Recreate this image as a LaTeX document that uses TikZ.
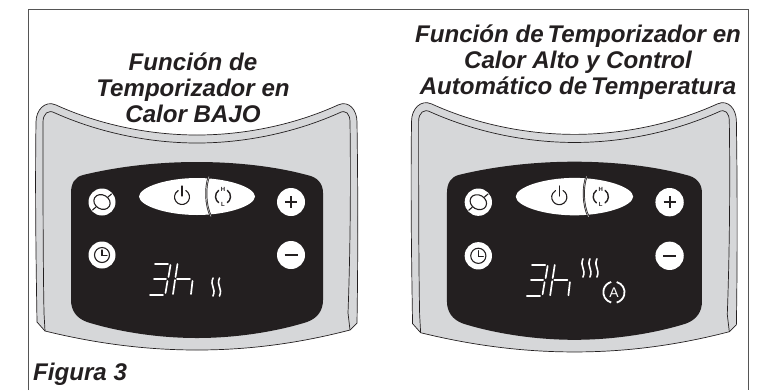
\documentclass[tikz,border=0pt]{standalone}
\usepackage{fontspec}
\setmainfont{Liberation Sans}
\definecolor{ink}{HTML}{231F20}
\definecolor{shell}{HTML}{D6D7D9}
\definecolor{framecol}{HTML}{555555}
\tikzset{
  shellline/.style={draw=ink,line width=0.7pt},
  seg/.style={draw=white,line width=1.7pt,line cap=round},
  btn/.style={fill=white},
  icon/.style={draw=ink,line width=1.1pt,line cap=round},
  tinyletter/.style={font=\fontsize{6}{6}\selectfont\bfseries,text=ink,inner sep=0pt},
  heading/.style={font=\fontsize{24.2}{26}\selectfont\bfseries\itshape,text=ink,align=center,inner sep=0pt},
  wave/.style={draw=white,line width=1.6pt,line cap=round}
}
\newcommand{\panelbase}{%
  \path[shellline,fill=shell] (36,122) .. controls (36,110) and (45,100) .. (56,105)
    .. controls (100,125) and (150,135) .. (197,135) .. controls (244,135) and (294,125) .. (338,105)
    .. controls (349,100) and (357,110) .. (357,122) .. controls (358,190) and (358,260) .. (357,323)
    -- (350,330) .. controls (300,343) and (250,350) .. (197,350) .. controls (144,350) and (94,343) .. (45,331)
    -- (37,322) .. controls (36,260) and (35,190) .. (36,122) -- cycle;
  \draw[shellline] (45,331) -- (44,313) .. controls (43,260) and (43,190) .. (43,122)
    .. controls (43,114) and (48,109) .. (55,113) .. controls (100,133) and (150,143) .. (197,143)
    .. controls (244,143) and (294,133) .. (339,113) .. controls (346,109) and (350,114) .. (350,122)
    .. controls (351,190) and (350,260) .. (348,313) -- (350,330);
  \fill[ink] (83,175) .. controls (120,166) and (160,162) .. (197,162) .. controls (234,162) and (274,166) .. (307,175)
    .. controls (317,177) and (323,183) .. (323,193) -- (323,300) .. controls (323,310) and (318,318) .. (307,322)
    .. controls (275,332) and (235,338) .. (197,338) .. controls (159,338) and (119,332) .. (87,322)
    .. controls (76,318) and (71,310) .. (71,300) -- (71,193) .. controls (71,183) and (75,177) .. (83,175) -- cycle;
  \fill[white] (139,196.5) .. controls (139.5,187) and (167,178) .. (197,178) .. controls (227,178) and (254.5,187) .. (255,196.5)
    .. controls (254.5,206) and (227,215) .. (197,215) .. controls (167,215) and (139.5,206) .. (139,196.5) -- cycle;
  \draw[ink,line width=2pt] (209,176.5) .. controls (205,186) and (205,205) .. (211,216.5);
  \draw[white!75!black,line width=0.6pt] (209,176.5) .. controls (205,186) and (205,205) .. (211,216.5);
  % power
  \draw[icon] (182,197) ++(300:7.5) arc[start angle=300,end angle=600,radius=7.5];
  \draw[icon] (182,186) -- (182,196);
  % H/L cycle
  \draw[icon,line width=1.4pt] (223,196.5) ++(235:7.5) arc[start angle=235,end angle=125,radius=7.5];
  \draw[icon,line width=1.4pt] (223,196.5) ++(-55:7.5) arc[start angle=-55,end angle=55,radius=7.5];
  \node[tinyletter] (hi) at (223,189) {H};
  \node[tinyletter] (lo) at (223,204) {L};
  % buttons
  \fill[btn] (102,202) circle[radius=13.5];
  \fill[btn] (102,255) circle[radius=13.5];
  \fill[btn] (291,202) circle[radius=14];
  \fill[btn] (291,255) circle[radius=14];
  % swing
  \draw[icon,rotate around={-30:(102,202)}] (102,202) ellipse[x radius=8.5,y radius=7];
  \draw[icon] (92.5,210) -- (96,207);
  \draw[icon] (111.5,194) -- (108,197);
  % clock
  \draw[icon] (102,255) circle[radius=7.5];
  \draw[icon] (102,250) -- (102,255.5) -- (107,255.5);
  % plus, minus
  \draw[ink,line width=2.2pt] (285,202) -- (297,202) (291,196) -- (291,208);
  \draw[ink,line width=2.4pt] (284.5,255) -- (297.5,255);
  % 3h
  \draw[seg] (155,264) -- (168,264);
  \draw[seg] (170.5,265) -- (168.5,277);
  \draw[seg] (154,279) -- (166,279);
  \draw[seg] (167.5,281) -- (165.5,293);
  \draw[seg] (150,295) -- (163,295);
  \draw[seg] (177.5,264) -- (175.5,277);
  \draw[seg] (175,280) -- (173,294);
  \draw[seg] (177,279) -- (190,279);
  \draw[seg] (192.5,281) -- (191,294);
}
\newcommand{\lowwave}[3]{%
  \draw[wave] (#1,#2) .. controls +(-3.5,#3*0.45) and +(3.5,-#3*0.45) .. +(0,#3);
}
\begin{document}
\begin{tikzpicture}[x=1bp,y=-1bp]
\useasboundingbox (0,0) rectangle (765,390);
\draw[framecol,line width=1pt] (28,390) -- (28,9) -- (748,9) -- (748,390);

\begin{scope}
  \panelbase
  \lowwave{213}{278}{18}
  \lowwave{219.5}{278}{18}
\end{scope}

\begin{scope}[shift={(375.1,-2.25)},scale=1.012]
  \panelbase
  \lowwave{205.4}{258}{18}
  \lowwave{212.3}{258}{18}
  \lowwave{219.2}{258}{18}
  \draw[draw=white,line width=1.8pt] (236,291) ++(-75:10.5) arc[start angle=-75,end angle=75,radius=10.5];
  \draw[draw=white,line width=1.8pt] (236,291) ++(105:10.5) arc[start angle=105,end angle=255,radius=10.5];
  \node[font=\fontsize{14}{14}\selectfont,text=white,inner sep=0pt] (auto) at (236,291) {A};
\end{scope}

\node[heading] (titleleft) at (193,87.5) {Función de\\Temporizador en\\Calor BAJO};
\node[heading] (titleright) at (578,62) {Función de\hspace{-0.12em} Temporizador en\\Calor Alto y Control\\Automático de\hspace{-0.12em} Temperatura};
\node[heading,anchor=base west] (fig) at (33,380) {Figura 3};
\end{tikzpicture}
\end{document}
